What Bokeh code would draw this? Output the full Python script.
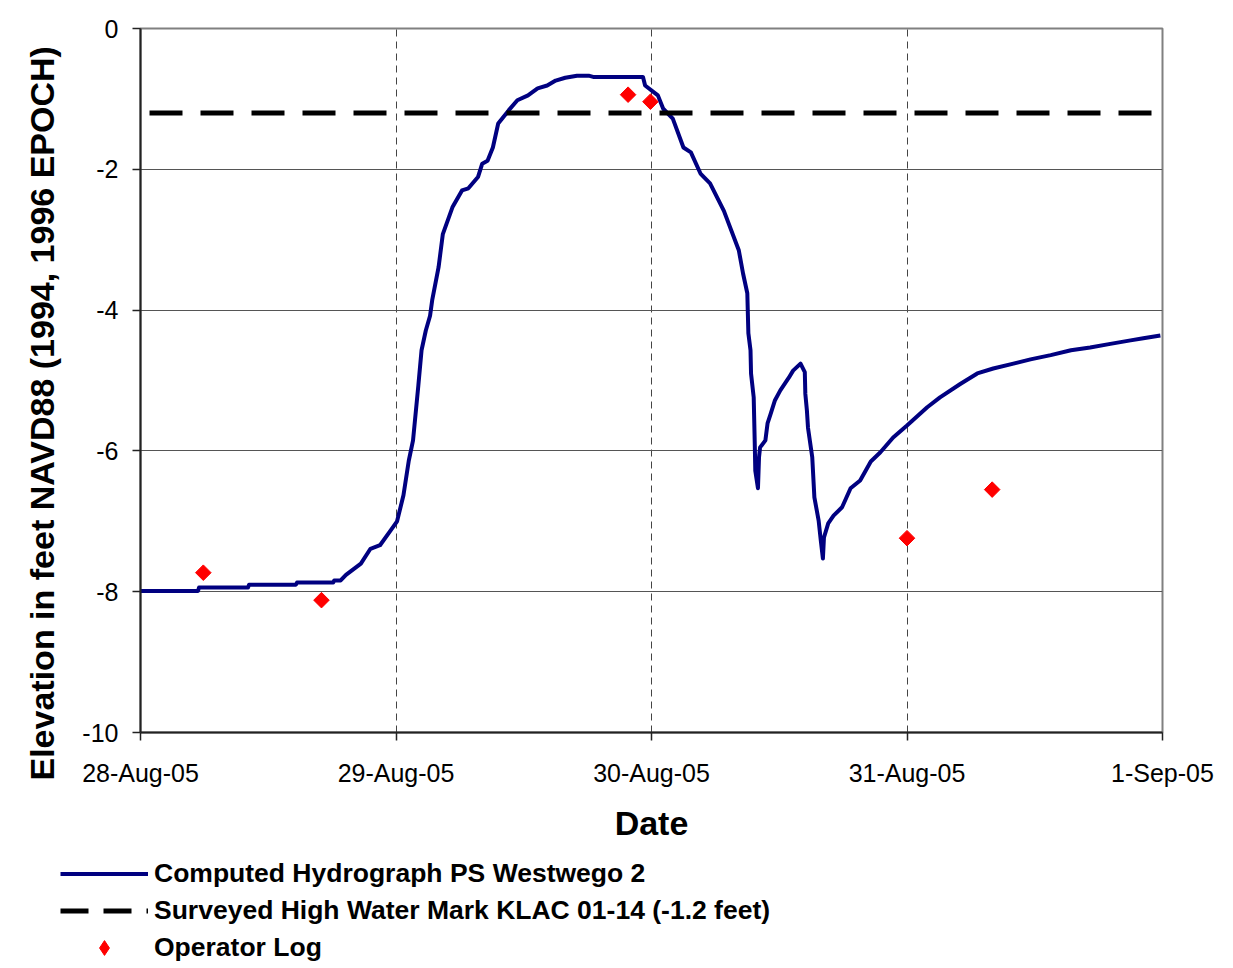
from math import pi
from bokeh.plotting import figure
from bokeh.models import Range1d, FixedTicker, Legend, LegendItem, ColumnDataSource, Title
from bokeh.embed import file_html
from bokeh.resources import INLINE

# ---- data (hours since 28-Aug-05 00:00, elevation ft NAVD88) ----
hydro_hours = [0, 5.4, 5.5, 10.1, 10.2, 14.6, 14.7, 18.1, 18.2, 18.8, 19.3, 20.7, 21.6, 22.5, 23.5,
               24.1, 24.7, 25.2, 25.6, 26.1, 26.4, 26.8, 27.2, 27.4, 28.0, 28.4, 29.3, 30.2, 30.8,
               31.7, 32.1, 32.6, 33.1, 33.6, 34.6, 35.4, 36.4, 37.3, 38.2, 39.0, 39.9, 41.0, 42.1,
               42.6, 47.2, 47.4, 48.6, 49.1, 50.0, 51.0, 51.7, 52.6, 53.5, 54.8, 56.2, 56.6, 57.0,
               57.1, 57.3, 57.35, 57.6, 57.7, 57.75, 58.0, 58.1, 58.2, 58.7, 58.9, 59.2, 59.6, 60.1,
               60.9, 61.3, 62.0, 62.4, 62.45, 62.6, 62.7, 63.1, 63.3, 63.7, 63.9, 64.1, 64.2, 64.6,
               65.1, 65.9, 66.7, 67.6, 68.6, 69.5, 70.7, 72.0, 73.9, 75.1, 77.0, 78.6, 80.1, 82.0,
               83.6, 85.5, 87.4, 89.2, 91.1, 93.0, 94.2, 95.8]
hydro_elev = [-7.99, -7.99, -7.94, -7.94, -7.90, -7.90, -7.87, -7.87, -7.84, -7.84, -7.76, -7.60,
              -7.39, -7.34, -7.13, -7.00, -6.63, -6.14, -5.85, -5.07, -4.57, -4.29, -4.08, -3.86,
              -3.39, -2.92, -2.54, -2.30, -2.27, -2.11, -1.92, -1.88, -1.69, -1.35, -1.16, -1.02,
              -0.95, -0.85, -0.81, -0.74, -0.70, -0.67, -0.67, -0.69, -0.69, -0.81, -0.95, -1.14,
              -1.28, -1.69, -1.76, -2.06, -2.20, -2.59, -3.15, -3.48, -3.76, -4.33, -4.57, -4.90,
              -5.24, -5.90, -6.28, -6.53, -6.09, -5.95, -5.85, -5.61, -5.47, -5.28, -5.14, -4.96,
              -4.86, -4.76, -4.88, -5.19, -5.43, -5.67, -6.09, -6.66, -6.99, -7.27, -7.53, -7.23,
              -7.03, -6.92, -6.80, -6.53, -6.42, -6.15, -6.02, -5.81, -5.64, -5.38, -5.24, -5.05,
              -4.90, -4.83, -4.76, -4.70, -4.64, -4.57, -4.53, -4.48, -4.43, -4.40, -4.36]

hwm_hours = [0, 96]
hwm_elev = [-1.2, -1.2]

log_hours = [5.9, 17.0, 45.8, 47.9, 72.0, 80.0]
log_elev = [-7.73, -8.12, -0.94, -1.04, -7.24, -6.55]

x_tick_hours = [0, 24, 48, 72, 96]
x_tick_labels = ["28-Aug-05", "29-Aug-05", "30-Aug-05", "31-Aug-05", "1-Sep-05"]
y_ticks = [-10, -8, -6, -4, -2, 0]
y_tick_labels = ["-10", "-8", "-6", "-4", "-2", "0"]

series_names = ["Computed Hydrograph PS Westwego 2",
                "Surveyed High Water Mark KLAC 01-14 (-1.2 feet)",
                "Operator Log"]
x_title = "Date"
y_title = "Elevation in feet NAVD88 (1994, 1996 EPOCH)"

FONT = "Liberation Sans"
W = 1225

src_h = ColumnDataSource(dict(x=hydro_hours, y=hydro_elev))
src_w = ColumnDataSource(dict(x=hwm_hours, y=hwm_elev))
src_l = ColumnDataSource(dict(x=log_hours, y=log_elev))

# ---------------- main chart ----------------
p = figure(width=W, height=850, x_range=Range1d(0, 96), y_range=Range1d(-10, 0),
           output_backend="svg", toolbar_location=None,
           min_border_left=140, min_border_right=W - 1162, min_border_top=28, min_border_bottom=118)
p.background_fill_color = "white"
p.border_fill_color = "white"
p.outline_line_color = "#808080"
p.outline_line_width = 2

p.xgrid.ticker = FixedTicker(ticks=x_tick_hours)
p.xgrid.grid_line_color = "#444444"
p.xgrid.grid_line_dash = "7 5"
p.xgrid.grid_line_width = 1
p.ygrid.ticker = FixedTicker(ticks=y_ticks)
p.ygrid.grid_line_color = "#555555"
p.ygrid.grid_line_width = 1

for ax in (p.xaxis[0], p.yaxis[0]):
    ax.axis_line_color = "#222222"
    ax.axis_line_width = 2
    ax.major_tick_line_color = "#222222"
    ax.major_tick_line_width = 1.5
    ax.major_tick_in = 0
    ax.major_tick_out = 8
    ax.minor_tick_line_color = None
    ax.major_label_text_font = FONT
    ax.major_label_text_font_size = "25px"
    ax.major_label_text_color = "black"
    ax.axis_label_text_font = FONT
    ax.axis_label_text_font_style = "bold"
    ax.axis_label_text_font_size = "34px"
    ax.axis_label_text_color = "black"

p.xaxis.ticker = FixedTicker(ticks=x_tick_hours)
p.xaxis.major_label_overrides = dict(zip(x_tick_hours, x_tick_labels))
p.xaxis.major_label_standoff = 18
p.xaxis.axis_label = x_title
p.xaxis.axis_label_standoff = 14

p.yaxis.ticker = FixedTicker(ticks=y_ticks)
p.yaxis.major_label_overrides = dict(zip(y_ticks, y_tick_labels))
p.yaxis.major_label_standoff = 14

# y-axis title as a side-panel title, starting just below the plot bottom as in the reference
p.add_layout(Title(text=y_title, align="left", offset=-48, standoff=37,
                   vertical_align="bottom", text_font=FONT, text_font_style="bold",
                   text_font_size="34px", text_color="black"), "left")

p.line("x", "y", source=src_h, line_color="#000080", line_width=4, line_join="round")
p.line("x", "y", source=src_w, line_color="black", line_width=5,
       line_dash="33 18", line_dash_offset=42)
p.scatter("x", "y", source=src_l, marker="square", size=11, angle=pi / 4,
          fill_color="#ff0000", line_color="#ff0000")

# ---------------- legend strip (separate root, no frame alignment) ----------------
q = figure(width=W, height=116, x_range=Range1d(1000, 1001), y_range=Range1d(1000, 1001),
           output_backend="svg", toolbar_location=None,
           x_axis_location=None, y_axis_location=None,
           min_border_left=0, min_border_right=0, min_border_top=0, min_border_bottom=0)
q.grid.visible = False
q.outline_line_color = None
q.background_fill_color = "white"
q.border_fill_color = "white"
lh = q.line("x", "y", source=src_h, line_color="#000080", line_width=4)
lw = q.line("x", "y", source=src_w, line_color="black", line_width=5, line_dash="28 15")
ll = q.scatter("x", "y", source=src_l, marker="diamond", size=16,
               fill_color="#ff0000", line_color="#ff0000")

legend = Legend(items=[LegendItem(label=series_names[0], renderers=[lh]),
                       LegendItem(label=series_names[1], renderers=[lw]),
                       LegendItem(label=series_names[2], renderers=[ll])],
                location=(60, 0), orientation="vertical",
                glyph_width=88, glyph_height=37, label_height=37, spacing=0,
                label_standoff=6, padding=0, margin=0,
                border_line_alpha=0, background_fill_alpha=0,
                label_text_font=FONT, label_text_font_style="bold",
                label_text_font_size="26.5px", label_text_color="black")
q.add_layout(legend)

open("out.html", "w").write(file_html([p, q], INLINE))
